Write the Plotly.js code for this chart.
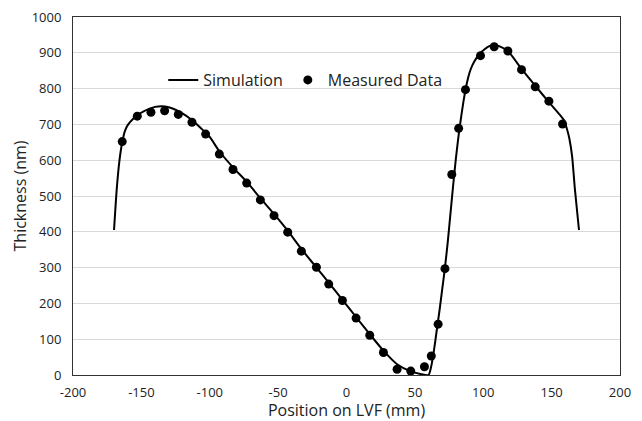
<!DOCTYPE html>
<html>
<head>
<meta charset="utf-8">
<script src="https://cdn.plot.ly/plotly-3.0.1.min.js"></script>
<style>html,body{margin:0;padding:0;background:#fff;}#chart{width:642px;height:421px;}</style>
</head>
<body>
<div id="chart"></div>
<script>
// Simulation curve
const simX = [-170, -168, -166, -164, -162, -160, -156, -152, -148, -144, -140, -135, -130, -125, -120, -115, -110, -105, -100, -93, -83, -73, -63, -53, -43, -33, -23, -13, -3, 7, 17, 27, 37, 47, 54, 60, 62, 64, 66, 68, 70, 72, 74, 76, 78, 80, 82, 84, 86, 88, 90, 92, 95, 98, 101, 104, 108, 112, 118, 128, 138, 148, 159, 161, 163, 165, 167, 170];
const simY = [405, 520, 600, 650, 682, 698, 716, 728, 737, 744, 749, 751, 748, 741, 731, 718, 702, 684, 665, 625, 580, 540, 494, 450, 403, 352, 305, 258, 210, 162, 114, 68, 30, 10, 3, 0, 25, 70, 125, 180, 240, 300, 370, 450, 530, 605, 670, 725, 775, 815, 845, 865, 885, 900, 910, 918, 922, 918, 905, 855, 808, 762, 712, 690, 660, 610, 520, 405];

// Measured data
const measX = [-164, -153, -143, -133, -123, -113, -103, -93, -83, -73, -63, -53, -43, -33, -22, -13, -3, 7, 17, 27, 37, 47, 57, 62, 67, 72, 77, 82, 87, 98, 108, 118, 128, 138, 148, 158];
const measY = [652, 723, 734, 738, 728, 706, 673, 617, 574, 536, 489, 445, 399, 346, 301, 254, 208, 159, 111, 63, 16, 11, 23, 53, 142, 297, 560, 689, 797, 892, 917, 905, 853, 805, 765, 701];

// Tick labels
const xTickVals = [-200, -150, -100, -50, 0, 50, 100, 150, 200];
const xTickText = ['-200', '-150', '-100', '-50', '0', '50', '100', '150', '200'];
const yTickVals = [0, 100, 200, 300, 400, 500, 600, 700, 800, 900, 1000];
const yTickText = ['0', '100', '200', '300', '400', '500', '600', '700', '800', '900', '1000'];

const fontFam = "'Open Sans', 'Noto Sans', sans-serif";

const traces = [
  {
    x: simX, y: simY, type: 'scatter', mode: 'lines', name: 'Simulation',
    line: {color: '#000000', width: 2, shape: 'spline', smoothing: 0.6}
  },
  {
    x: measX, y: measY, type: 'scatter', mode: 'markers', name: 'Measured Data',
    marker: {color: '#000000', size: 9, symbol: 'circle'}
  }
];

const layout = {
  width: 642, height: 421,
  margin: {l: 73, r: 22, t: 17, b: 46},
  paper_bgcolor: '#ffffff', plot_bgcolor: '#ffffff',
  font: {family: fontFam, color: '#222222', size: 13},
  showlegend: true,
  legend: {
    orientation: 'h', x: 0.165, y: 0.824, xanchor: 'left', yanchor: 'middle',
    bgcolor: 'rgba(0,0,0,0)', font: {size: 16, color: '#222222'},
    itemwidth: 30, tracegroupgap: 0
  },
  xaxis: {
    range: [-200, 200], tickmode: 'array', tickvals: xTickVals, ticktext: xTickText,
    showgrid: false, zeroline: false,
    showline: true, linecolor: '#333333', linewidth: 1, mirror: true,
    ticks: 'outside', ticklen: 5, tickcolor: 'rgba(0,0,0,0)',
    tickfont: {size: 13, color: '#222222'},
    title: {text: 'Position on LVF (mm)', font: {size: 16, color: '#222222'}, standoff: 4}
  },
  yaxis: {
    range: [0, 1000], tickmode: 'array', tickvals: yTickVals, ticktext: yTickText,
    showgrid: true, gridcolor: '#d9d9d9', gridwidth: 1, zeroline: false,
    showline: true, linecolor: '#333333', linewidth: 1, mirror: true,
    ticks: 'outside', ticklen: 8, tickcolor: 'rgba(0,0,0,0)',
    tickfont: {size: 13, color: '#222222'},
    title: {text: 'Thickness (nm)', font: {size: 16, color: '#222222'}, standoff: 1}
  }
};

Plotly.newPlot('chart', traces, layout, {staticPlot: true, displayModeBar: false});
</script>
</body>
</html>
